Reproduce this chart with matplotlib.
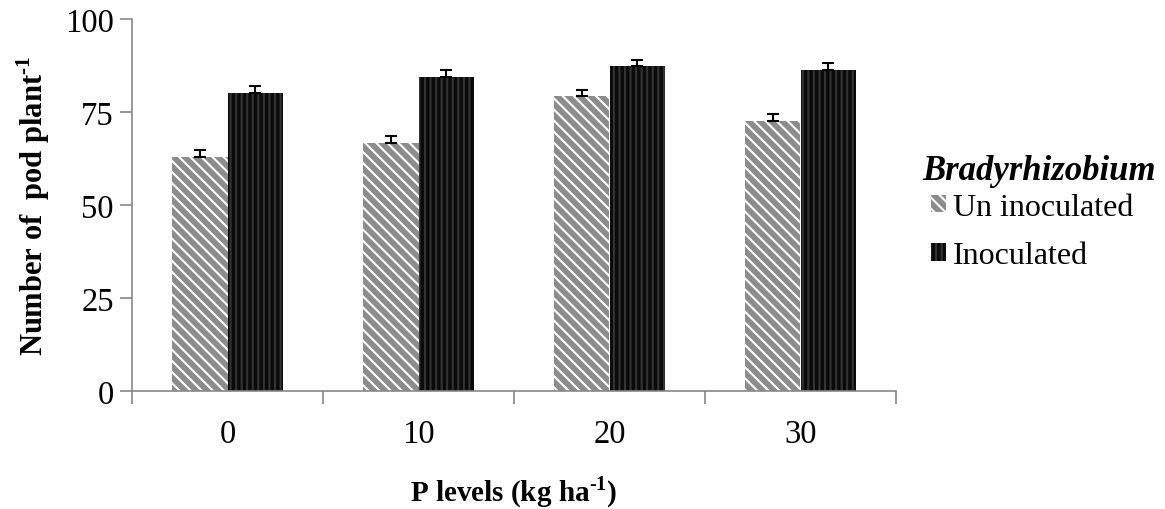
#!/usr/bin/env python3
import numpy as np
import matplotlib
matplotlib.use('Agg')
from matplotlib import pyplot as plt

p_levels = ['0', '10', '20', '30']
uninoculated = [62.8, 66.8, 79.2, 72.7]
uninoculated_err = [1.9, 1.8, 1.8, 1.8]
inoculated = [80.1, 84.5, 87.3, 86.4]
inoculated_err = [1.8, 1.8, 1.7, 1.8]

plt.rcParams['font.family'] = ['Liberation Serif', 'DejaVu Serif']
plt.rcParams['mathtext.fontset'] = 'custom'
plt.rcParams['mathtext.rm'] = 'Liberation Serif:bold'
plt.rcParams['mathtext.bf'] = 'Liberation Serif:bold'
plt.rcParams['hatch.linewidth'] = 1.5

fig = plt.figure(figsize=(11.65, 5.1), dpi=100)
ax = fig.add_axes([132 / 1165, 1 - 392 / 510, 764 / 1165, 372 / 510])

x = np.arange(len(p_levels))
w = 0.288
errkw = dict(ecolor='black', elinewidth=1.5, capsize=4.5, capthick=1.5)
zeros = np.zeros(len(p_levels))

# error bars only go upward from the bar top (cap at both ends)
ax.bar(x - w / 2, uninoculated, w, yerr=[zeros, uninoculated_err], color='#8c8c8c',
       edgecolor='white', linewidth=0, hatch='\\\\\\', error_kw=errkw,
       label='Un inoculated')
ax.bar(x + w / 2, inoculated, w, yerr=[zeros, inoculated_err], color='#0a0a0a',
       edgecolor='#333333', linewidth=0, hatch='|||', error_kw=errkw,
       label='Inoculated')

ax.set_xlim(-0.5, len(p_levels) - 0.5)
ax.set_ylim(0, 100)
ax.set_yticks([0, 25, 50, 75, 100])

# category boundaries get tick marks, labels sit between them
ax.set_xticks(np.arange(len(p_levels) + 1) - 0.5)
ax.set_xticklabels([])
ax.set_xticks(x, minor=True)
ax.set_xticklabels(p_levels, minor=True)
ax.tick_params(axis='x', which='major', length=9, width=1.2, color='#888888', direction='out')
ax.tick_params(axis='x', which='minor', length=0, pad=20, labelsize=23.5)
ax.tick_params(axis='y', length=9, width=1.2, color='#888888', labelsize=23.5, pad=4)

for s in ['top', 'right']:
    ax.spines[s].set_visible(False)
for s in ['left', 'bottom']:
    ax.spines[s].set_color('#888888')
    ax.spines[s].set_linewidth(1.2)

ax.set_ylabel(r'Number of  pod plant$^{\text{-1}}$', fontsize=22, fontweight='bold')
ax.yaxis.set_label_coords(-0.1045, 0.5)
ax.set_xlabel(r'P levels (kg ha$^{\text{-1}}$)', fontsize=21, fontweight='bold')
ax.xaxis.set_label_coords(0.5, -0.222)

fig.text(922 / 1165, 1 - 172 / 510, 'Bradyrhizobium', fontsize=25, fontweight='bold',
         fontstyle='italic', va='center', ha='left')
ax.legend(loc='upper left', bbox_to_anchor=(931 / 1165, 1 - 194 / 510),
          bbox_transform=fig.transFigure, frameon=False, fontsize=23,
          handlelength=0.47, handleheight=0.47, handletextpad=0.22,
          labelspacing=0.6, borderaxespad=0, borderpad=0)

fig.savefig('out.png', dpi=100)
